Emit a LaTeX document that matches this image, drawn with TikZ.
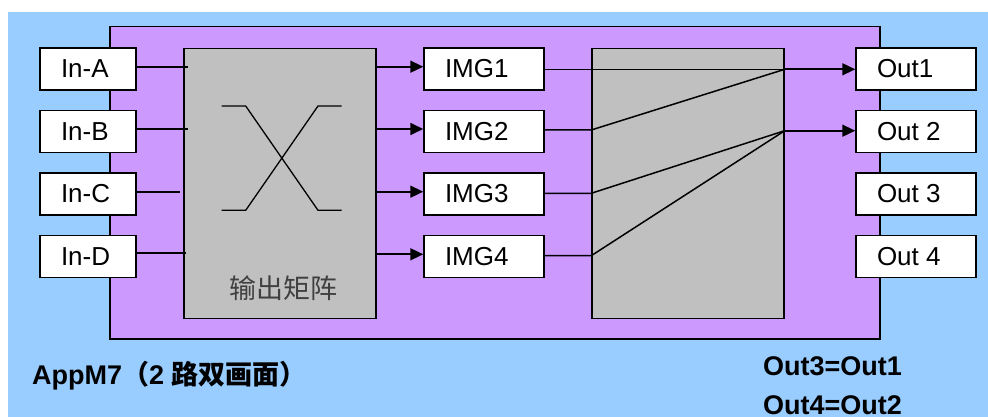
\documentclass[tikz,border=0pt]{standalone}
\usepackage{fontspec}
\setmainfont{Liberation Sans}
\newfontfamily\cjk{Noto Sans CJK SC}
\usetikzlibrary{arrows.meta,calc}
\definecolor{bgblue}{HTML}{99CCFF}
\definecolor{purp}{HTML}{CC99FF}
\definecolor{gry}{HTML}{C0C0C0}
\definecolor{txtgray}{HTML}{404040}
\newcommand\lfttxt[2]{\makebox[#1][l]{\hspace*{21pt}#2}}
\tikzset{
  iobox/.style={draw=black, line width=1.5pt, fill=white, minimum width=#1, minimum height=42pt, inner sep=0pt, font=\fontsize{26}{30}\selectfont},
  panel/.style={draw=black, line width=1.5pt, fill=gry, inner sep=0pt, minimum width=192pt, minimum height=270.4pt},
  wire/.style={line width=2.2pt},
  fine wire/.style={line width=1.5pt},
  xline/.style={line width=1.3pt},
  arr/.style={line width=1.7pt, -{Triangle[length=13pt,width=12pt]}},
  boldlabel/.style={anchor=base west, inner sep=0pt, font=\bfseries\fontsize{27}{30}\selectfont},
}
\begin{document}
\begin{tikzpicture}[x=1pt,y=-1pt]
\useasboundingbox (0,0) rectangle (988,417);
% backgrounds
\fill[bgblue] (8,12) rectangle (988,417);
\node[draw=black, line width=1.2pt, fill=purp, minimum width=770pt, minimum height=312.3pt, inner sep=0pt] (dev) at (495,182.85) {};
% panels
\node[panel] (mat) at (280,183.5) {};
\node[panel] (sw) at (688,183.5) {};
% X in matrix
\draw[xline] ($(mat.center)+(-58.3,-77.5)$) -- ++(24,0) -- ($(mat.center)+(38,26.8)$) -- ++(23.7,0);
\draw[xline] ($(mat.center)+(-58.3,26.8)$) -- ++(24,0) -- ($(mat.center)+(38,-77.5)$) -- ++(23.7,0);
\node[font=\cjk\fontsize{27}{30}\selectfont, text=txtgray] (mlab) at (283,288) {输出矩阵};
% input boxes
\node[iobox=96pt] (ia) at (88,69) {\lfttxt{96pt}{In-A}};
\node[iobox=96pt] (ib) at (88,131.5) {\lfttxt{96pt}{In-B}};
\node[iobox=96pt] (ic) at (88,194) {\lfttxt{96pt}{In-C}};
\node[iobox=96pt] (id) at (88,256.5) {\lfttxt{96pt}{In-D}};
% image boxes
\node[iobox=120pt] (g1) at (484,69) {\lfttxt{120pt}{IMG1}};
\node[iobox=120pt] (g2) at (484,131.5) {\lfttxt{120pt}{IMG2}};
\node[iobox=120pt] (g3) at (484,194) {\lfttxt{120pt}{IMG3}};
\node[iobox=120pt] (g4) at (484,256.5) {\lfttxt{120pt}{IMG4}};
% output boxes
\node[iobox=120pt] (o1) at (916,69) {\lfttxt{120pt}{Out1}};
\node[iobox=120pt] (o2) at (916,131.5) {\lfttxt{120pt}{Out 2}};
\node[iobox=120pt] (o3) at (916,194) {\lfttxt{120pt}{Out 3}};
\node[iobox=120pt] (o4) at (916,256.5) {\lfttxt{120pt}{Out 4}};
% input wires
\coordinate (ea) at (188,66.7);
\coordinate (eb) at (188,129);
\coordinate (ec) at (180,191.7);
\coordinate (ed) at (185.6,252.7);
\draw[wire] (ia.east |- ea) -- (ea);
\draw[wire] (ib.east |- eb) -- (eb);
\draw[wire] (ic.east |- ec) -- (ec);
\draw[wire] (id.east |- ed) -- (ed);
% matrix to images
\draw[arr] (mat.east |- 0,66.7) -- (g1.west |- 0,66.7);
\draw[arr] (mat.east |- 0,129) -- (g2.west |- 0,129);
\draw[arr] (mat.east |- 0,191.7) -- (g3.west |- 0,191.7);
\draw[arr] (mat.east |- 0,254.3) -- (g4.west |- 0,254.3);
% switch
\coordinate (p1) at (sw.east |- 0,69.3);
\coordinate (p2) at (sw.east |- 0,130.7);
\draw[fine wire] (g1.east |- p1) -- (p1);
\draw[fine wire] (g2.east |- 0,130) -- (sw.west |- 0,130) -- (p1);
\draw[fine wire] (g3.east |- 0,193.3) -- (sw.west |- 0,193.3) -- (p2);
\draw[fine wire] (g4.east |- 0,255.7) -- (sw.west |- 0,255.7) -- (p2);
\draw[arr] (p1) -- (o1.west |- p1);
\draw[arr] (p2) -- (o2.west |- p2);
% labels
\node[boldlabel] (title) at (32,384) {AppM7{\cjk （}2 {\cjk 路双画面）}};
\node[boldlabel] (eq1) at (763,375) {Out3=Out1};
\node[boldlabel] (eq2) at (763,414) {Out4=Out2};
\end{tikzpicture}
\end{document}
